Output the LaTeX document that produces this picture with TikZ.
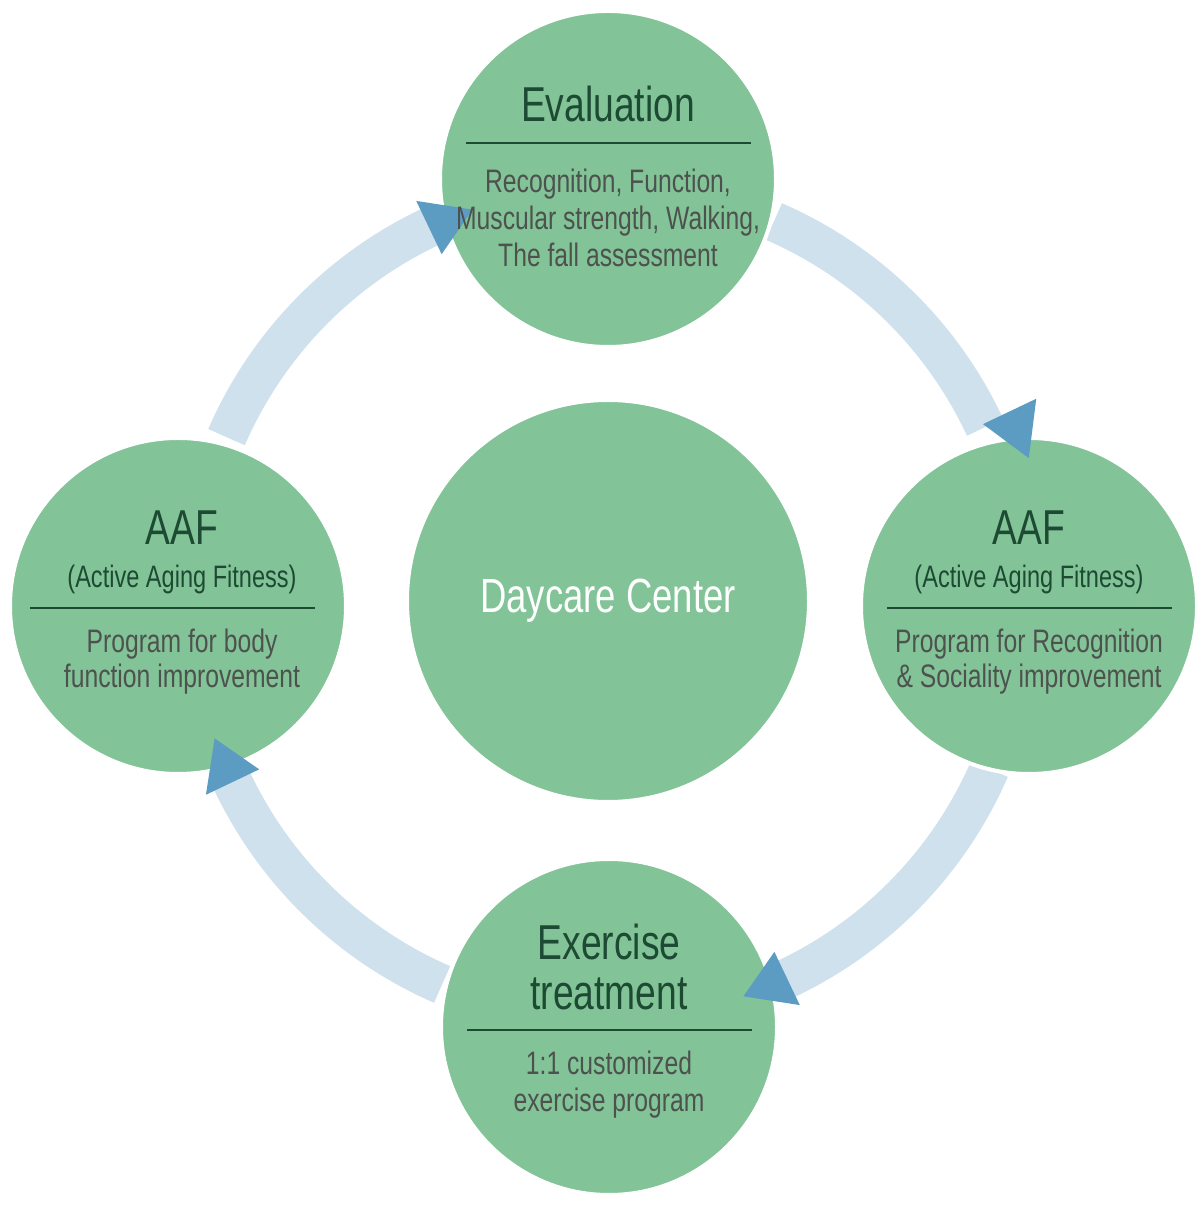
\documentclass[tikz,border=0pt]{standalone}
\usepackage{fontspec}
\setmainfont{Liberation Sans}[FakeStretch=0.76]
\usetikzlibrary{calc}

\definecolor{stagegreen}{HTML}{82C497}
\definecolor{headgreen}{HTML}{1D4A33}
\definecolor{bodygray}{HTML}{4D524F}
\definecolor{bandblue}{HTML}{CFE1EC}
\definecolor{tipblue}{HTML}{5C9CC2}

\begin{document}
\begin{tikzpicture}[x=1pt, y=1pt,
    stagenode/.style={circle, fill=stagegreen, draw=white, line width=4pt, minimum size=336pt, inner sep=0pt, outer sep=0pt},
    hubnode/.style={stagenode, minimum size=402pt, text=white, font=\fontsize{48}{56}\selectfont},
    headtext/.style={anchor=base, inner sep=0pt, text=headgreen, font=\fontsize{49}{58}\selectfont},
    subtext/.style={anchor=base, inner sep=0pt, text=headgreen, font=\fontsize{31}{37}\selectfont},
    bodytext/.style={anchor=base, inner sep=0pt, text=bodygray, font=\fontsize{32.5}{37}\selectfont},
    rulerline/.style={draw=headgreen, line width=2.5pt},
    flowband/.style={draw=bandblue, line width=40pt},
    flowtip/.style={fill=tipblue}
]
\useasboundingbox (0,0) rectangle (1200,1206);

% Cycle bands
\coordinate (hub) at (608,603);
\foreach \a in {90,0,-90,-180}
  \draw[flowband] ($(hub)+(\a-23.5:416)$) arc[start angle=\a-23.5, end angle=\a-65, radius=416];

% Stages
\node[stagenode] (eval) at (608,1027) {};
\node[stagenode] (aafleft) at (178,600) {};
\node[stagenode] (aafright) at (1029,600) {};
\node[stagenode] (exer) at (609,179) {};
\node[hubnode] (daycare) at (608,605) {Daycare Center};

% Arrow heads
\foreach \a/\off in {90/29, 0/0, -90/0, -180/0}
  \fill[flowtip] ($(hub)+(\a-64.5:{386.5+\off})$) -- ($(hub)+(\a-64.5:{445.5+\off})$)
    -- ($(hub)+(\a-71:{416+\off})$) -- cycle;

% Evaluation
\node[headtext] at ([yshift=57]eval.center) {Evaluation};
\draw[rulerline] ([xshift=-142,yshift=36]eval.center) -- ([xshift=143,yshift=36]eval.center);
\node[bodytext] at ([yshift=-14]eval.center) {Recognition, Function,};
\node[bodytext] at ([yshift=-51]eval.center) {Muscular strength, Walking,};
\node[bodytext] at ([yshift=-88]eval.center) {The fall assessment};

% AAF left
\node[headtext] at ([xshift=4,yshift=61]aafleft.center) {AAF};
\node[subtext] at ([xshift=4,yshift=18]aafleft.center) {(Active Aging Fitness)};
\draw[rulerline] ([xshift=-148,yshift=-2]aafleft.center) -- ([xshift=137,yshift=-2]aafleft.center);
\node[bodytext] at ([xshift=4,yshift=-47]aafleft.center) {Program for body};
\node[bodytext] at ([xshift=4,yshift=-82]aafleft.center) {function improvement};

% AAF right
\node[headtext] at ([yshift=61]aafright.center) {AAF};
\node[subtext] at ([yshift=18]aafright.center) {(Active Aging Fitness)};
\draw[rulerline] ([xshift=-142,yshift=-2]aafright.center) -- ([xshift=143,yshift=-2]aafright.center);
\node[bodytext] at ([yshift=-47]aafright.center) {Program for Recognition};
\node[bodytext] at ([yshift=-82]aafright.center) {\& Sociality improvement};

% Exercise treatment
\node[headtext] at ([yshift=67]exer.center) {Exercise};
\node[headtext] at ([yshift=17]exer.center) {treatment};
\draw[rulerline] ([xshift=-142,yshift=-3]exer.center) -- ([xshift=143,yshift=-3]exer.center);
\node[bodytext] at ([yshift=-48]exer.center) {1:1 customized};
\node[bodytext] at ([yshift=-85]exer.center) {exercise program};

\end{tikzpicture}
\end{document}
